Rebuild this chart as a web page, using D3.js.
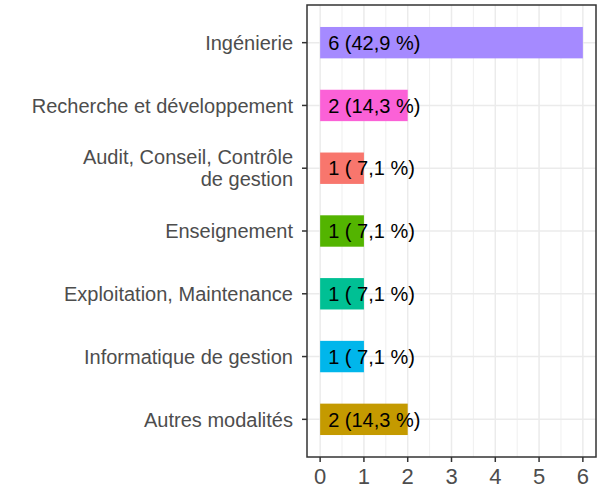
<!doctype html>
<html>
<head>
<meta charset="utf-8"/>
<title>Secteurs</title>
<script src="https://d3js.org/d3.v7.min.js"></script>
<style>
body { margin: 0; background: white; }
text { font-family: "Liberation Sans", Arial, sans-serif; }
</style>
</head>
<body>
<svg id="chart"></svg>
<script>
// data, top to bottom
const categories = ['Ingénierie', 'Recherche et développement', 'Audit, Conseil, Contrôle\nde gestion',
    'Enseignement', 'Exploitation, Maintenance', 'Informatique de gestion', 'Autres modalités']
const counts = [6, 2, 1, 1, 1, 1, 2]
const labels = ['6 (42,9 %)', '2 (14,3 %)', '1 ( 7,1 %)', '1 ( 7,1 %)', '1 ( 7,1 %)', '1 ( 7,1 %)', '2 (14,3 %)']
const colors = ['#A58AFF', '#FB61D7', '#F8766D', '#53B400', '#00C094', '#00B6EB', '#C49A00']
const xTicks = [0, 1, 2, 3, 4, 5, 6]

const width = 603
const height = 487
const pLeft = 307, pRight = 596, pTop = 5, pBottom = 457

const svg = d3.select('#chart')
    .attr('width', width)
    .attr('height', height)

// x: 0..6 with 5% expansion
const x = d3.scaleLinear().domain([-0.3, 6.3]).range([pLeft, pRight])
// ggplot-like discrete axis: 0.6 expansion each side, bars half a step
const y = d3.scaleBand().domain(categories)
    .range([pTop, pBottom]).paddingInner(0.5).paddingOuter(0.35)
const yc = c => y(c) + y.bandwidth() / 2

svg.append('rect')
    .attr('x', pLeft).attr('y', pTop)
    .attr('width', pRight - pLeft).attr('height', pBottom - pTop)
    .attr('fill', 'white')

// grid
const g = svg.append('g')
d3.range(0.5, 6.5, 1).forEach(v => {
    g.append('line')
        .attr('x1', x(v)).attr('x2', x(v)).attr('y1', pTop).attr('y2', pBottom)
        .attr('stroke', '#EBEBEB').attr('stroke-width', 0.8)
})
xTicks.forEach(v => {
    g.append('line')
        .attr('x1', x(v)).attr('x2', x(v)).attr('y1', pTop).attr('y2', pBottom)
        .attr('stroke', '#EBEBEB').attr('stroke-width', 1.5)
})
categories.forEach(c => {
    g.append('line')
        .attr('x1', pLeft).attr('x2', pRight).attr('y1', yc(c)).attr('y2', yc(c))
        .attr('stroke', '#EBEBEB').attr('stroke-width', 1.5)
})

// bars
svg.append('g').selectAll('rect')
    .data(counts)
    .join('rect')
    .attr('x', x(0))
    .attr('y', (d, i) => y(categories[i]))
    .attr('width', d => x(d) - x(0))
    .attr('height', y.bandwidth())
    .attr('fill', (d, i) => colors[i])

// bar labels
svg.append('g').selectAll('text')
    .data(labels)
    .join('text')
    .attr('x', x(0) + 8)
    .attr('y', (d, i) => yc(categories[i]))
    .attr('dy', '0.36em')
    .attr('font-size', 20)
    .attr('fill', 'black')
    .style('white-space', 'pre')
    .text(d => d)

// panel border
svg.append('rect')
    .attr('x', pLeft).attr('y', pTop)
    .attr('width', pRight - pLeft).attr('height', pBottom - pTop)
    .attr('fill', 'none').attr('stroke', '#333333').attr('stroke-width', 1.5)

// x axis
const xa = svg.append('g')
xTicks.forEach(v => {
    xa.append('line')
        .attr('x1', x(v)).attr('x2', x(v)).attr('y1', pBottom).attr('y2', pBottom + 5)
        .attr('stroke', '#333333').attr('stroke-width', 1.5)
    xa.append('text')
        .attr('x', x(v)).attr('y', 484)
        .attr('text-anchor', 'middle')
        .attr('font-size', 22)
        .attr('fill', '#4D4D4D')
        .text(v)
})

// y axis
const ya = svg.append('g')
categories.forEach(c => {
    ya.append('line')
        .attr('x1', pLeft - 5).attr('x2', pLeft).attr('y1', yc(c)).attr('y2', yc(c))
        .attr('stroke', '#333333').attr('stroke-width', 1.5)
    const lines = c.split('\n')
    const t = ya.append('text')
        .attr('text-anchor', 'end')
        .attr('font-size', 20)
        .attr('fill', '#4D4D4D')
    lines.forEach((ln, k) => {
        t.append('tspan')
            .attr('x', pLeft - 14)
            .attr('y', yc(c) + (k - (lines.length - 1) / 2) * 22)
            .attr('dy', '0.36em')
            .text(ln)
    })
})
</script>
</body>
</html>
